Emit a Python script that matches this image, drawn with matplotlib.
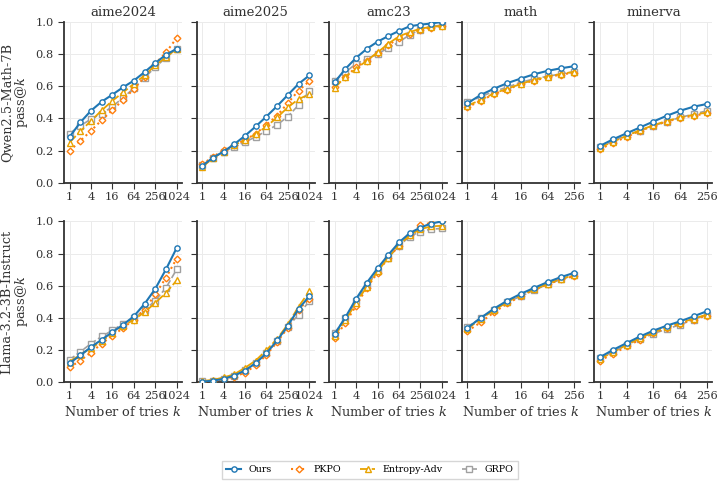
import numpy as np
import matplotlib.pyplot as plt

plt.rcParams['font.family'] = ['DejaVu Serif']
plt.rcParams['mathtext.fontset'] = 'dejavuserif'

# k values
k_long = [1, 2, 4, 8, 16, 32, 64, 128, 256, 512, 1024]
k_short = [1, 2, 4, 8, 16, 32, 64, 128, 256]

datasets = ['aime2024', 'aime2025', 'amc23', 'math', 'minerva']
models = ['Qwen2.5-Math-7B', 'Llama-3.2-3B-Instruct']
methods = ['Ours', 'PKPO', 'Entropy-Adv', 'GRPO']

# Qwen2.5-Math-7B
qwen_aime2024 = {
    'Ours': [0.285, 0.375, 0.448, 0.504, 0.548, 0.594, 0.635, 0.688, 0.744, 0.796, 0.833],
    'PKPO': [0.198, 0.26, 0.323, 0.39, 0.452, 0.515, 0.583, 0.656, 0.74, 0.81, 0.90],
    'Entropy-Adv': [0.25, 0.32, 0.385, 0.45, 0.51, 0.562, 0.615, 0.667, 0.73, 0.78, 0.833],
    'GRPO': [0.306, 0.354, 0.396, 0.43, 0.473, 0.53, 0.587, 0.652, 0.719, 0.777, 0.833],
}
qwen_aime2025 = {
    'Ours': [0.104, 0.156, 0.194, 0.24, 0.292, 0.35, 0.412, 0.477, 0.546, 0.615, 0.667],
    'PKPO': [0.115, 0.16, 0.204, 0.235, 0.265, 0.306, 0.36, 0.417, 0.496, 0.573, 0.631],
    'Entropy-Adv': [0.098, 0.152, 0.194, 0.235, 0.265, 0.302, 0.35, 0.406, 0.469, 0.52, 0.55],
    'GRPO': [0.11, 0.152, 0.194, 0.223, 0.254, 0.285, 0.323, 0.36, 0.412, 0.483, 0.569],
}
qwen_amc23 = {
    'Ours': [0.625, 0.708, 0.777, 0.833, 0.877, 0.912, 0.944, 0.973, 0.983, 0.99, 1.0],
    'PKPO': [0.598, 0.656, 0.719, 0.76, 0.806, 0.854, 0.902, 0.927, 0.952, 0.965, 0.975],
    'Entropy-Adv': [0.59, 0.66, 0.708, 0.76, 0.81, 0.865, 0.91, 0.937, 0.958, 0.969, 0.975],
    'GRPO': [0.635, 0.688, 0.74, 0.77, 0.802, 0.837, 0.875, 0.92, 0.952, 0.973, 0.979],
}
qwen_math = {
    'Ours': [0.494, 0.546, 0.585, 0.62, 0.648, 0.675, 0.696, 0.712, 0.725],
    'PKPO': [0.469, 0.51, 0.552, 0.579, 0.615, 0.635, 0.656, 0.673, 0.685],
    'Entropy-Adv': [0.479, 0.515, 0.556, 0.585, 0.615, 0.64, 0.66, 0.677, 0.69],
    'GRPO': [0.5, 0.535, 0.569, 0.594, 0.625, 0.646, 0.662, 0.677, 0.69],
}
qwen_minerva = {
    'Ours': [0.229, 0.271, 0.308, 0.344, 0.381, 0.417, 0.448, 0.473, 0.49],
    'PKPO': [0.208, 0.25, 0.285, 0.323, 0.354, 0.381, 0.402, 0.417, 0.431],
    'Entropy-Adv': [0.219, 0.256, 0.292, 0.327, 0.358, 0.385, 0.406, 0.423, 0.437],
    'GRPO': [0.223, 0.26, 0.298, 0.323, 0.354, 0.381, 0.406, 0.427, 0.448],
}

# Llama-3.2-3B-Instruct
llama_aime2024 = {
    'Ours': [0.119, 0.167, 0.219, 0.265, 0.312, 0.358, 0.41, 0.487, 0.581, 0.702, 0.835],
    'PKPO': [0.092, 0.135, 0.185, 0.24, 0.29, 0.337, 0.39, 0.452, 0.546, 0.65, 0.769],
    'Entropy-Adv': [0.129, 0.171, 0.212, 0.254, 0.306, 0.348, 0.39, 0.435, 0.494, 0.556, 0.633],
    'GRPO': [0.14, 0.19, 0.24, 0.285, 0.323, 0.365, 0.40, 0.448, 0.508, 0.587, 0.702],
}
llama_aime2025 = {
    'Ours': [0.004, 0.01, 0.021, 0.042, 0.073, 0.119, 0.181, 0.26, 0.352, 0.456, 0.535],
    'PKPO': [0.003, 0.008, 0.02, 0.035, 0.06, 0.105, 0.17, 0.25, 0.34, 0.45, 0.52],
    'Entropy-Adv': [0.008, 0.015, 0.03, 0.05, 0.09, 0.135, 0.2, 0.27, 0.36, 0.47, 0.565],
    'GRPO': [0.005, 0.01, 0.02, 0.04, 0.075, 0.12, 0.18, 0.255, 0.345, 0.42, 0.504],
}
llama_amc23 = {
    'Ours': [0.30, 0.404, 0.519, 0.619, 0.708, 0.792, 0.869, 0.927, 0.962, 0.987, 1.0],
    'PKPO': [0.275, 0.369, 0.477, 0.587, 0.681, 0.775, 0.848, 0.915, 0.977, 0.99, 1.0],
    'Entropy-Adv': [0.29, 0.385, 0.494, 0.594, 0.69, 0.775, 0.852, 0.915, 0.952, 0.969, 0.973],
    'GRPO': [0.306, 0.40, 0.504, 0.602, 0.69, 0.775, 0.848, 0.906, 0.937, 0.952, 0.956],
}
llama_math = {
    'Ours': [0.337, 0.40, 0.458, 0.508, 0.55, 0.587, 0.623, 0.654, 0.681],
    'PKPO': [0.317, 0.373, 0.435, 0.49, 0.535, 0.577, 0.608, 0.64, 0.66],
    'Entropy-Adv': [0.331, 0.394, 0.448, 0.50, 0.542, 0.577, 0.612, 0.644, 0.665],
    'GRPO': [0.342, 0.40, 0.452, 0.498, 0.535, 0.573, 0.608, 0.64, 0.665],
}
llama_minerva = {
    'Ours': [0.156, 0.202, 0.244, 0.285, 0.321, 0.352, 0.379, 0.41, 0.442],
    'PKPO': [0.135, 0.177, 0.223, 0.265, 0.306, 0.337, 0.365, 0.39, 0.415],
    'Entropy-Adv': [0.146, 0.187, 0.233, 0.275, 0.31, 0.342, 0.369, 0.396, 0.421],
    'GRPO': [0.15, 0.19, 0.233, 0.269, 0.302, 0.331, 0.358, 0.39, 0.421],
}

results = [
    [qwen_aime2024, qwen_aime2025, qwen_amc23, qwen_math, qwen_minerva],
    [llama_aime2024, llama_aime2025, llama_amc23, llama_math, llama_minerva],
]

styles = {
    'Ours': dict(color='#1f77b4', ls='-', marker='o', lw=1.5, zorder=5),
    'PKPO': dict(color='#ff7f0e', ls=':', marker='D', lw=1.5, zorder=3, ms=3.4),
    'Entropy-Adv': dict(color='#e8a200', ls=(0, (5, 1.5)), marker='^', lw=1.3, zorder=4),
    'GRPO': dict(color='#a0a0a0', ls='--', marker='s', lw=1.2, zorder=2),
}

fig, axes = plt.subplots(2, 5, figsize=(7.21, 4.87), dpi=100, sharey=True)
fig.subplots_adjust(left=0.089, right=0.988, top=0.955, bottom=0.215, wspace=0.125, hspace=0.24)

handles = []
for r in range(2):
    for c in range(5):
        ax = axes[r, c]
        data = results[r][c]
        for m in methods:
            st = dict(styles[m])
            ms = st.pop('ms', 3.8)
            vals = data[m]
            ks = k_long if len(vals) == 11 else k_short
            h, = ax.plot(np.log2(ks), vals, markersize=ms, markerfacecolor='white',
                         markeredgewidth=1.0, label=m, **st)
            if r == 0 and c == 0:
                handles.append(h)
        ks = k_long if len(data['Ours']) == 11 else k_short
        ticks = [k for k in ks if np.log2(k) % 2 == 0]
        ax.set_xticks(np.log2(ticks))
        ax.set_xticklabels([str(t) for t in ticks], fontsize=8.2, color='#333333')
        ax.set_ylim(0, 1.0)
        ax.set_yticks([0, 0.2, 0.4, 0.6, 0.8, 1.0])
        ax.tick_params(axis='y', labelsize=8.2, labelcolor='#333333', direction='out', length=4, color='#333333')
        ax.tick_params(axis='x', direction='out', length=4, color='#333333', pad=2.5)
        ax.grid(True, color='#ebebeb', lw=0.7)
        ax.set_axisbelow(True)
        for s in ['top', 'right']:
            ax.spines[s].set_visible(False)
        for s in ['left', 'bottom']:
            ax.spines[s].set_color('#333333')
            ax.spines[s].set_linewidth(1.3)
        if r == 0:
            ax.set_title(datasets[c], fontsize=9.5, color='#333333', pad=4)
        else:
            ax.set_xlabel('Number of tries $k$', fontsize=9.3, color='#333333', labelpad=3)
        if c == 0:
            ax.set_ylabel(models[r] + '\npass@$k$', fontsize=9.3, color='#333333', linespacing=1.0)

fig.legend(handles=handles, labels=methods, loc='center', bbox_to_anchor=(0.513, 0.035),
           ncol=4, fontsize=6.8, frameon=True, fancybox=False, edgecolor='#cccccc',
           handlelength=1.6, columnspacing=2.0, borderpad=0.5)

fig.savefig('out.png', dpi=100)
